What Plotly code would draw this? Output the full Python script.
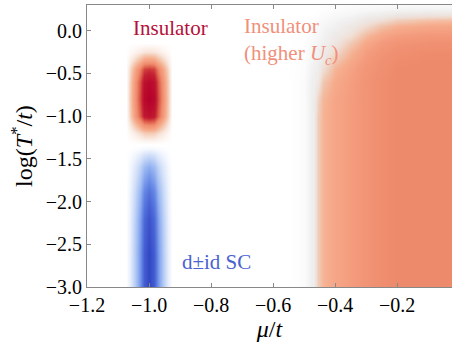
import numpy as np
import plotly.graph_objects as go

# ---- grids ----
mu_grid = [-1.2, -1.075, -1.06, -1.045, -1.03, -1.015, -1.0, -0.985, -0.97, -0.955, -0.94, -0.925,
           -0.6, -0.5, -0.47, -0.455, -0.44, -0.4, -0.35, -0.3, -0.25, -0.2, -0.1, -0.02]
logT_grid = [-3.0, -2.6, -2.2, -1.9, -1.6, -1.45, -1.38, -1.3, -1.2, -1.1, -1.0, -0.8, -0.6,
             -0.45, -0.35, -0.25, -0.15, -0.05, 0.05, 0.12, 0.18, 0.24, 0.3]

# blob profiles across mu (first 12 columns), centred at mu=-1.0
sc_col = [0, 0, 0.1, 0.3, 0.55, 0.85, 1.0, 0.85, 0.55, 0.3, 0.1, 0]
ins_col = [0, 0, 0.2, 0.45, 0.7, 0.95, 1.0, 0.95, 0.7, 0.45, 0.2, 0]
# d+id SC (negative) profile along logT
sc_row = [-1.0, -1.0, -0.92, -0.75, -0.45, -0.2, -0.05, 0, 0, 0, 0, 0, 0,
          0, 0, 0, 0, 0, 0, 0, 0, 0, 0]
# insulator blob profile along logT
ins_row = [0, 0, 0, 0, 0, 0, 0, 0.03, 0.2, 0.5, 0.9, 1.0, 0.95,
           0.75, 0.4, 0.12, 0, 0, 0, 0, 0, 0, 0]
# right insulator region (last 12 columns), rows logT <= -1.0
right_col = [0, 0, 0, 0.2, 0.28, 0.34, 0.39, 0.44, 0.48, 0.5, 0.5, 0.5]
# right insulator region, rows logT = -0.8 ... 0.3
right_top = [
    [0, 0, 0, 0.17, 0.27, 0.34, 0.39, 0.44, 0.48, 0.50, 0.50, 0.50],
    [0, 0, 0, 0.07, 0.22, 0.32, 0.38, 0.44, 0.48, 0.50, 0.50, 0.50],
    [0, 0, 0, 0.02, 0.12, 0.28, 0.36, 0.43, 0.47, 0.50, 0.50, 0.50],
    [0, 0, 0, 0, 0.07, 0.22, 0.33, 0.41, 0.46, 0.49, 0.50, 0.50],
    [0, 0, 0, 0, 0.03, 0.14, 0.28, 0.38, 0.44, 0.47, 0.49, 0.49],
    [0, 0, 0, 0, 0, 0.08, 0.21, 0.33, 0.40, 0.44, 0.46, 0.46],
    [0, 0, 0, 0, 0, 0.03, 0.12, 0.25, 0.34, 0.38, 0.41, 0.41],
    [0, 0, 0, 0, 0, 0, 0.05, 0.14, 0.24, 0.29, 0.33, 0.34],
    [0, 0, 0, 0, 0, 0, 0.01, 0.06, 0.12, 0.19, 0.23, 0.24],
    [0, 0, 0, 0, 0, 0, 0, 0.01, 0.03, 0.06, 0.09, 0.10],
    [0, 0, 0, 0, 0, 0, 0, 0, 0, 0, 0, 0],
    [0, 0, 0, 0, 0, 0, 0, 0, 0, 0, 0, 0],
]

# grey halo around the right region
halo_mu = [-0.56, -0.5, -0.475, -0.455, -0.44, -0.4, -0.35, -0.3, -0.2, -0.1, -0.02]
halo_logT = [-3.0, -0.9, -0.6, -0.4, -0.2, -0.05, 0.05, 0.12, 0.18, 0.24, 0.3]
halo_z = [
    [0, 0.2, 0.9, 0.3, 0, 0, 0, 0, 0, 0, 0],
    [0, 0.2, 0.9, 0.3, 0, 0, 0, 0, 0, 0, 0],
    [0, 0.2, 0.8, 0.6, 0.2, 0, 0, 0, 0, 0, 0],
    [0, 0.15, 0.6, 0.8, 0.6, 0.1, 0, 0, 0, 0, 0],
    [0, 0.1, 0.4, 0.6, 0.8, 0.5, 0.1, 0, 0, 0, 0],
    [0, 0.05, 0.25, 0.4, 0.6, 0.8, 0.4, 0.05, 0, 0, 0],
    [0, 0, 0.15, 0.3, 0.45, 0.7, 0.8, 0.4, 0, 0, 0],
    [0, 0, 0.1, 0.2, 0.3, 0.5, 0.7, 0.8, 0.3, 0, 0],
    [0, 0, 0.05, 0.1, 0.2, 0.35, 0.5, 0.7, 0.8, 0.7, 0.6],
    [0, 0, 0, 0.05, 0.1, 0.2, 0.3, 0.4, 0.6, 0.7, 0.7],
    [0, 0, 0, 0, 0.05, 0.1, 0.15, 0.2, 0.3, 0.3, 0.3],
]

x_ticks = [-1.2, -1.0, -0.8, -0.6, -0.4, -0.2]
y_ticks = [0.0, -0.5, -1.0, -1.5, -2.0, -2.5, -3.0]

# ---- build field ----
ny, nx = len(logT_grid), len(mu_grid)
Z = np.zeros((ny, nx))
Z[:, :12] += np.outer(np.array(sc_row), np.array(sc_col))
Z[:, :12] += np.outer(np.array(ins_row), np.array(ins_col))
n_bottom = ny - len(right_top)
for i in range(n_bottom):
    Z[i, 12:] += np.array(right_col)
for k, row in enumerate(right_top):
    Z[n_bottom + k, 12:] += np.array(row)

cscale = [
    [0.00, '#3346c4'],
    [0.10, '#4a66d6'],
    [0.20, '#6a8ce6'],
    [0.30, '#9bb8f2'],
    [0.40, '#cddcf8'],
    [0.50, '#ffffff'],
    [0.55, '#f9e8df'],
    [0.60, '#f4cab4'],
    [0.65, '#f6ae8e'],
    [0.70, '#f49a7c'],
    [0.75, '#ee8a6c'],
    [0.825, '#dc5a48'],
    [0.90, '#c42234'],
    [1.00, '#b5002a'],
]

fig = go.Figure()
fig.add_trace(go.Heatmap(x=mu_grid, y=logT_grid, z=Z, zmin=-1, zmax=1,
                         colorscale=cscale, showscale=False, zsmooth='best',
                         hoverinfo='skip'))
fig.add_trace(go.Heatmap(x=halo_mu, y=halo_logT, z=halo_z, zmin=0, zmax=1,
                         colorscale=[[0, 'rgba(215,215,215,0)'], [1, 'rgba(212,212,212,0.5)']],
                         showscale=False, zsmooth='best', hoverinfo='skip'))

font_family = 'Liberation Serif, Times New Roman, Times, serif'
fig.add_annotation(x=-0.932, y=0.035, text='Insulator', showarrow=False,
                   font=dict(family=font_family, size=21, color='#b5103a'))
fig.add_annotation(x=-0.70, y=-0.12, text='Insulator<br>(higher <i>U</i><sub><i>c</i></sub>)',
                   showarrow=False, xanchor='left', align='left',
                   font=dict(family=font_family, size=21, color='#f0907a'))
fig.add_annotation(x=-0.784, y=-2.703, text='d\u00b1id SC', showarrow=False,
                   font=dict(family=font_family, size=21, color='#4a62d0'))

fig.update_layout(
    width=452, height=345,
    margin=dict(l=87, r=0, t=5, b=58),
    paper_bgcolor='white', plot_bgcolor='white',
    font=dict(family=font_family, size=20, color='black'),
    xaxis=dict(range=[-1.2, -0.023], tickvals=x_ticks, ticktext=[f'{v:.1f}'.replace('-', '\u2212') for v in x_ticks],
               ticks='inside', ticklen=4, tickcolor='#888', showline=True, linecolor='#888',
               linewidth=1, mirror='ticks', showgrid=False, zeroline=False,
               title=dict(text='<i>\u03bc</i>/<i>t</i>', standoff=2)),
    yaxis=dict(range=[-3.0, 0.3], tickvals=y_ticks, ticktext=[f'{v:.1f}'.replace('-', '\u2212') for v in y_ticks],
               ticks='inside', ticklen=4, tickcolor='#888', showline=True, linecolor='#888',
               linewidth=1, showgrid=False, zeroline=False,
               title=dict(text='log(<i>T</i><sup>*</sup>/<i>t</i>)', standoff=6)),
)

fig.write_html('out.html', config={'displayModeBar': False},
               post_script="document.body.style.margin='0';document.body.style.overflow='hidden';")
